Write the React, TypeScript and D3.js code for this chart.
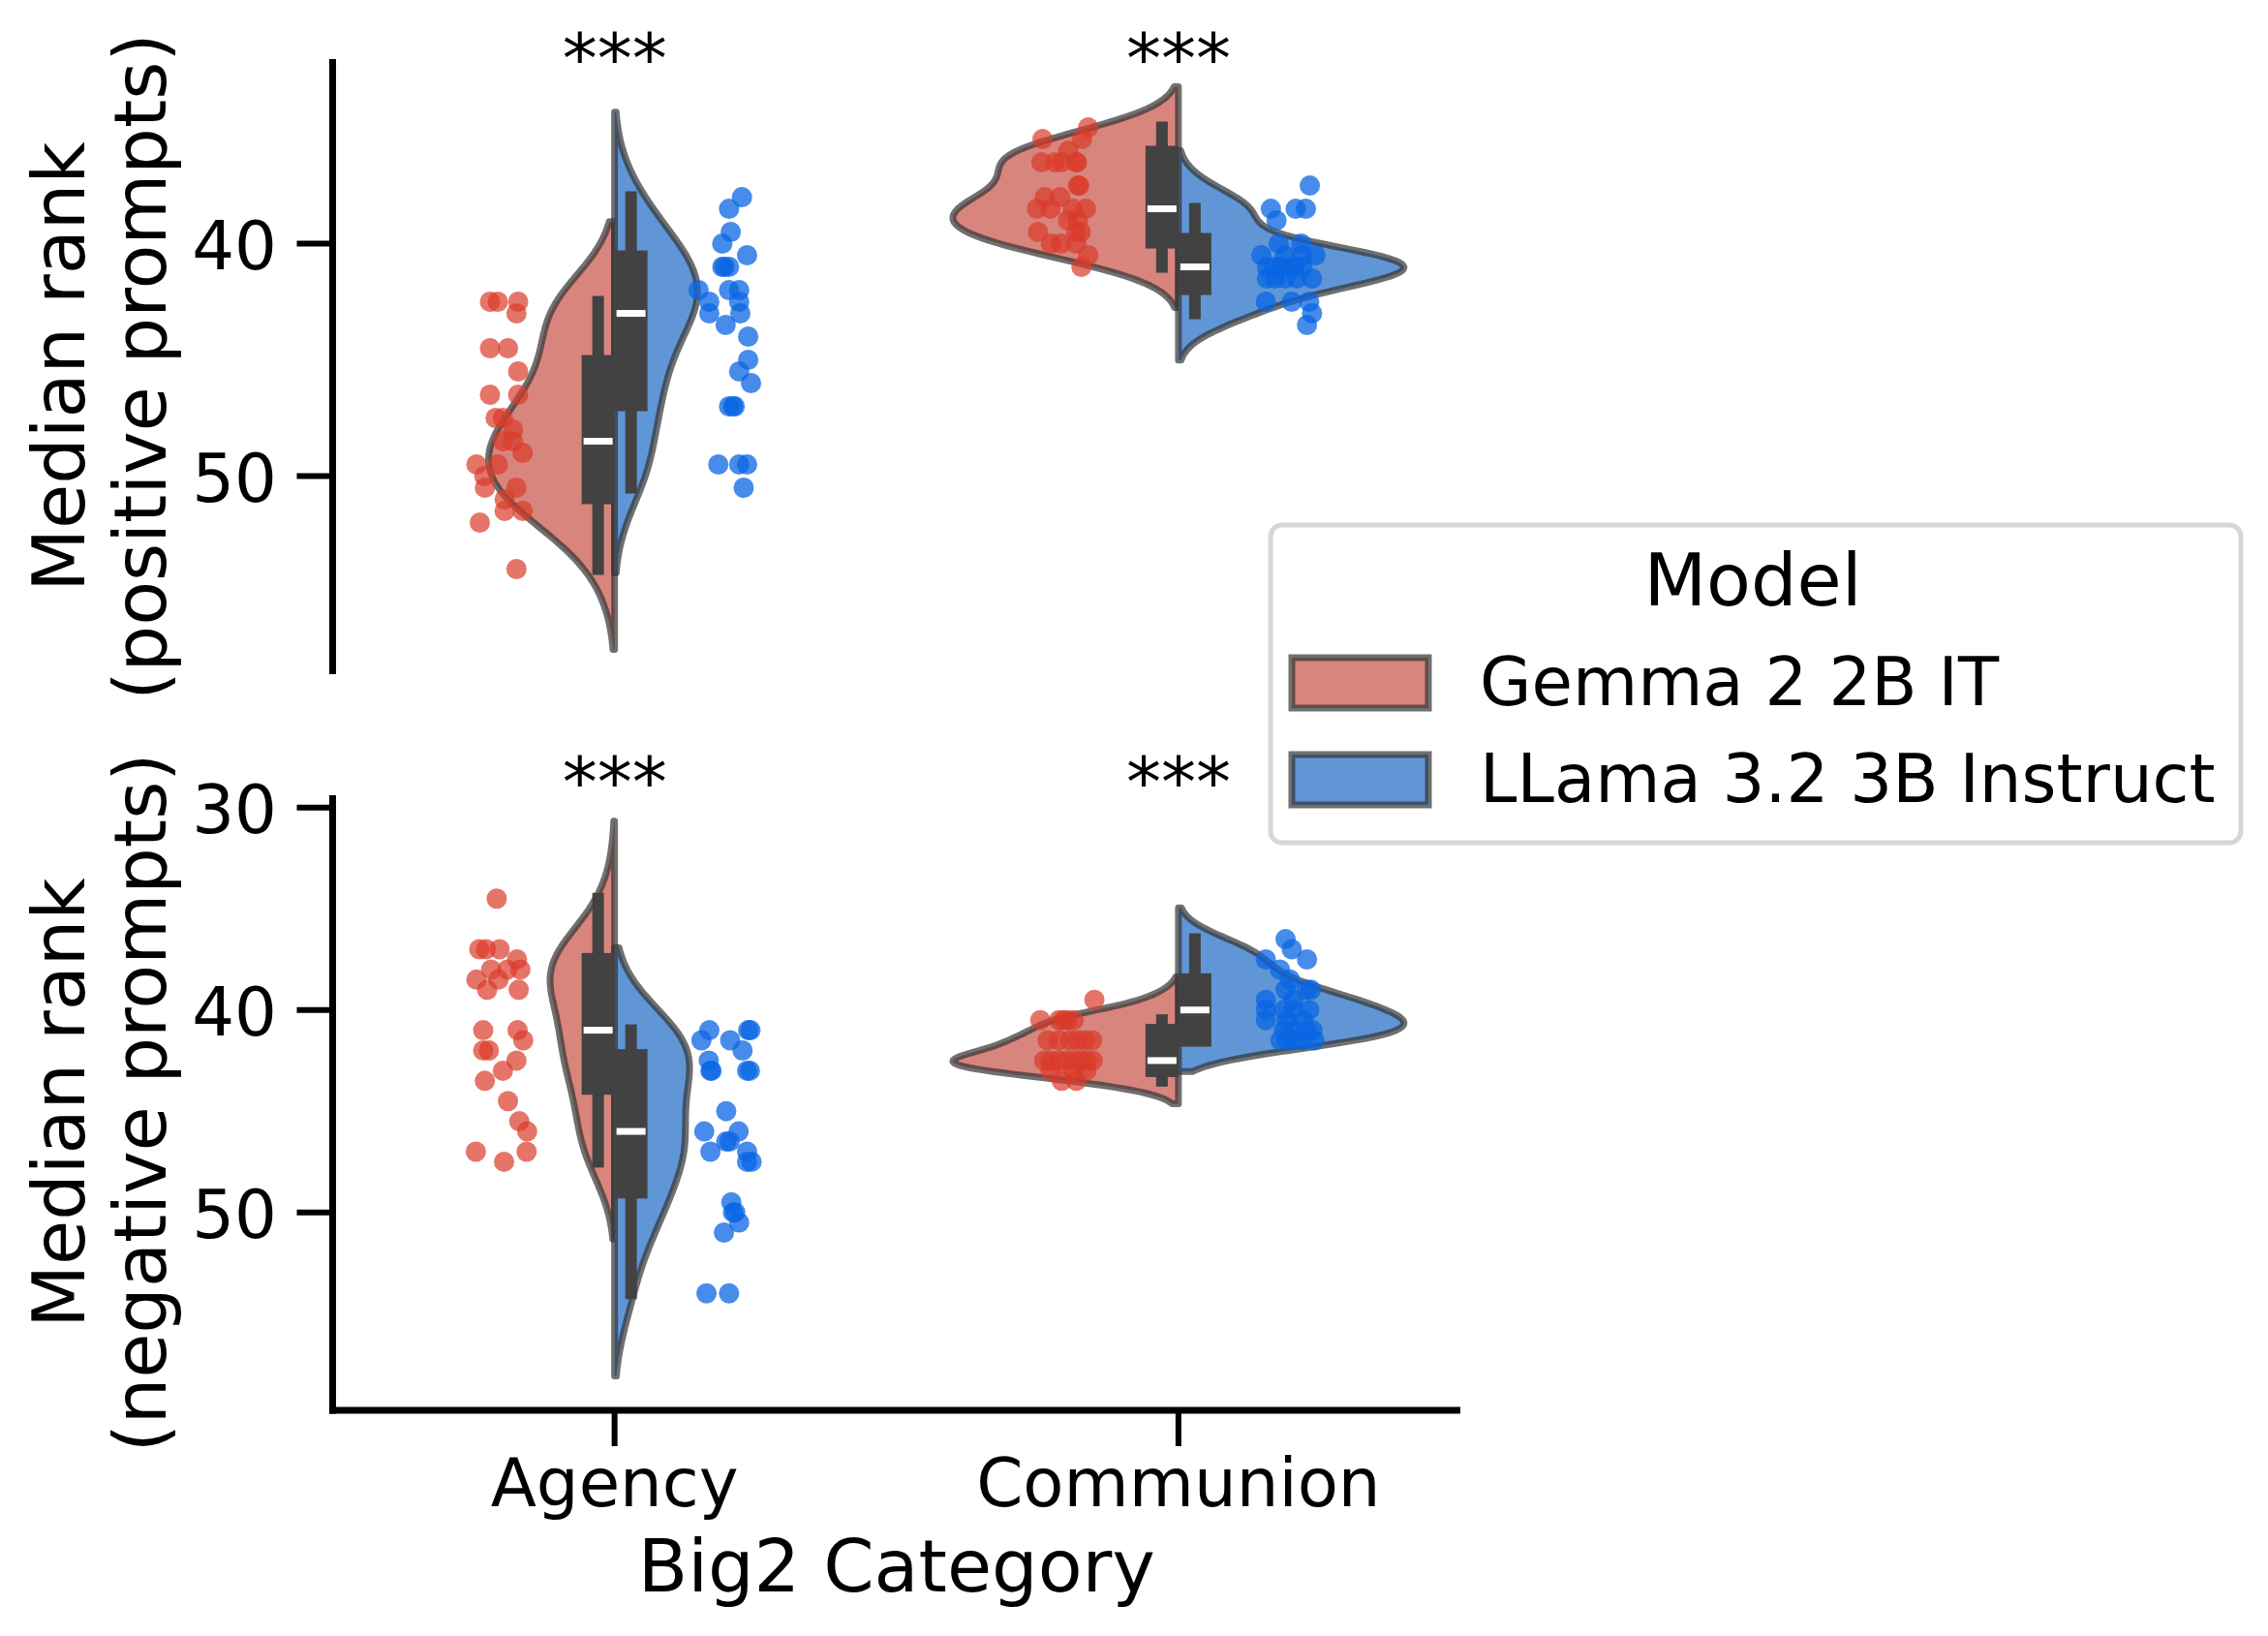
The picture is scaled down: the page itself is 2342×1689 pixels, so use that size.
import React from "react";
import * as d3 from "d3";

type Pt = [number, number]; // [median rank, horizontal jitter in category units]

const categories = ["Agency", "Communion"];
const models = ["Gemma 2 2B IT", "LLama 3.2 3B Instruct"];
const legendTitle = "Model";
const xAxisTitle = "Big2 Category";
const yTitlesPositive = ["Median rank", "(positive prompts)"];
const yTitlesNegative = ["Median rank", "(negative prompts)"];
const yTicksPositive = [40, 50];
const yTicksNegative = [30, 40, 50];
const sigPositive = ["***", "***"];
const sigNegative = ["***", "***"];

// ---- positive prompts ----
const posAgencyGemma: Pt[] = [
  [42.5, -0.021], [42.5, -0.007], [42.5, 0.029], [43, 0.026], [44.5, -0.021], [44.5, 0.011],
  [45.5, 0.029], [46.5, -0.021], [46.5, 0.029], [47.5, -0.011], [47.5, 0.002], [48, 0.02],
  [48.5, 0.002], [48.5, 0.02], [49, 0.037], [49.5, -0.045], [49.5, -0.007], [50, -0.031],
  [50.5, -0.03], [50.5, 0.026], [51, 0.005], [51.5, 0.005], [51.5, 0.037], [52, -0.039], [54, 0.026],
];
const posAgencyLlama: Pt[] = [
  [38, 0.026], [38.5, 0.003], [39.5, 0.006], [40, -0.009], [40.5, 0.035], [41, -0.009],
  [41, 0.003], [41, -0.005], [42, -0.051], [42, 0.003], [42, 0.021], [42.5, -0.032],
  [42.5, 0.021], [43, -0.032], [43, 0.023], [43.5, -0.003], [44, 0.037], [45, 0.037],
  [45.5, 0.021], [46, 0.042], [47, 0.003], [47, 0.013], [47, 0.01], [49.5, -0.016],
  [49.5, 0.021], [49.5, 0.035], [50.5, 0.029],
];
const posCommunionGemma: Pt[] = [
  [35, 0.04], [35.5, -0.041], [35.5, 0.029], [36, 0.005], [36.5, -0.043], [36.5, -0.019],
  [36.5, -0.007], [36.5, 0.019], [36.5, 0.02], [37.5, 0.024], [37.5, 0.022], [38, -0.037],
  [38, -0.01], [38.5, -0.051], [38.5, -0.027], [38.5, 0.013], [38.5, 0.036], [39, 0.004],
  [39, 0.022], [39.5, -0.049], [39.5, 0.019], [39.5, 0.027], [40, -0.026], [40, -0.008],
  [40, 0.019], [40.5, 0.04], [41, 0.028],
];
const posCommunionLlama: Pt[] = [
  [37.5, 0.033], [38.5, -0.036], [38.5, 0.008], [38.5, 0.026], [39, -0.026], [40, -0.022],
  [40, 0.018], [40.5, -0.053], [40.5, -0.011], [40.5, 0.043], [40.5, 0.02], [41, -0.043],
  [41, -0.017], [41, 0.003], [41, 0.006], [41, -0.03], [41, 0.02], [41.5, -0.043],
  [41.5, -0.029], [41.5, -0.011], [41.5, 0.037], [41.5, 0.01], [42.5, -0.045], [42.5, 0.001],
  [42.5, 0.032], [43, 0.037], [43.5, 0.028],
];

// ---- negative prompts ----
const negAgencyGemma: Pt[] = [
  [34.5, -0.009], [37, -0.04], [37, -0.028], [37, -0.004], [37.5, 0.027], [38, -0.019],
  [38, 0.01], [38, 0.033], [38.5, -0.045], [38.5, -0.006], [39, -0.026], [39, 0.03],
  [41, -0.033], [41, 0.028], [41.5, 0.038], [42, -0.033], [42, -0.023], [42.5, 0.026],
  [43, 0.002], [43.5, -0.03], [44.5, 0.011], [45.5, 0.031], [46, 0.045], [47, -0.046],
  [47, 0.044], [47.5, 0.004],
];
const negAgencyLlama: Pt[] = [
  [41, -0.032], [41, 0.037], [41, 0.041], [41.5, -0.046], [41.5, 0.005], [42, 0.027],
  [42.5, -0.033], [43, -0.03], [43, -0.028], [43, 0.035], [43, 0.04], [45, -0.002],
  [46, -0.041], [46, 0.02], [46.5, -0.002], [46.5, 0.004], [47, -0.03], [47, 0.035],
  [47.5, 0.035], [47.5, 0.043], [49.5, 0.007], [50, 0.01], [50, 0.014], [50.5, 0.021],
  [51, -0.006], [54, -0.037], [54, 0.003],
];
const negCommunionGemma: Pt[] = [
  [39.5, 0.051], [40.5, -0.045], [40.5, -0.012], [40.5, -0.004], [40.5, 0.003], [40.5, 0.014],
  [41.5, -0.032], [41.5, -0.012], [41.5, 0.008], [41.5, 0.022], [41.5, 0.034], [41.5, 0.047],
  [42.5, -0.038], [42.5, -0.027], [42.5, -0.012], [42.5, 0.002], [42.5, 0.014], [42.5, 0.026],
  [42.5, 0.037], [42.5, 0.048], [43, -0.027], [43, 0.014], [43, 0.037], [43.5, -0.007],
  [43.5, 0.019],
];
const negCommunionLlama: Pt[] = [
  [36.5, -0.01], [37, 0.001], [37.5, -0.045], [37.5, 0.028], [38, -0.02], [38.5, -0.002],
  [39, -0.01], [39, 0.027], [39, 0.035], [39.5, -0.045], [39.5, 0.004], [40, -0.045],
  [40, 0.004], [40, 0.032], [40, -0.013], [40.5, -0.045], [40.5, -0.008], [40.5, 0.021],
  [41, -0.013], [41, 0.038], [41, 0.004], [41, 0.027], [41.5, -0.008], [41.5, 0.004],
  [41.5, 0.041], [41.5, 0.021], [41.5, -0.019],
];

// ---------------- layout & style ----------------
const W = 2342;
const H = 1689;
const X_LEFT = 343.5;
const X_RIGHT = 1508;
const FONT = "DejaVu Sans";
const FILL = ["#D8857E", "#6096D5"];
const DOT = ["#DA3B2A", "#0A66E3"];
const DOT_OPACITY = [0.7, 0.75];
const EDGE = "#333333";
const EDGE_OPACITY = 0.7;
const EDGE_W = 7;
const BOX = "#424242";
const HALF_WIDTH = 0.4;
const DODGE = 0.2;
const BOX_W = 34;
const WHIS_W = 12;

const panels = [
  {
    top: 61, bottom: 696, domain: [32.06, 58.52], ticks: yTicksPositive, titles: yTitlesPositive,
    sig: sigPositive, sigY: 85, groups: [[posAgencyGemma, posAgencyLlama], [posCommunionGemma, posCommunionLlama]],
    xAxis: false,
  },
  {
    top: 821, bottom: 1456, domain: [29.39, 59.78], ticks: yTicksNegative, titles: yTitlesNegative,
    sig: sigNegative, sigY: 832, groups: [[negAgencyGemma, negAgencyLlama], [negCommunionGemma, negCommunionLlama]],
    xAxis: true,
  },
];

function kde(vals: number[]) {
  const n = vals.length;
  const sd = d3.deviation(vals) as number;
  const bw = sd * Math.pow(n, -0.2);
  const lo = (d3.min(vals) as number) - 2 * bw;
  const hi = (d3.max(vals) as number) + 2 * bw;
  const c = 1 / (n * bw * Math.sqrt(2 * Math.PI));
  return d3.range(100).map((i) => {
    const y = lo + ((hi - lo) * i) / 99;
    return [y, c * d3.sum(vals, (v) => Math.exp(-0.5 * ((y - v) / bw) ** 2))] as [number, number];
  });
}

function boxStats(vals: number[]) {
  const s = vals.slice().sort((a, b) => a - b);
  const q1 = d3.quantileSorted(s, 0.25) as number;
  const med = d3.quantileSorted(s, 0.5) as number;
  const q3 = d3.quantileSorted(s, 0.75) as number;
  const iqr = q3 - q1;
  const lo = d3.min(s.filter((v) => v >= q1 - 1.5 * iqr)) as number;
  const hi = d3.max(s.filter((v) => v <= q3 + 1.5 * iqr)) as number;
  return { q1, med, q3, lo, hi };
}

const xs = d3.scaleLinear().domain([-0.5, 1.5]).range([X_LEFT, X_RIGHT]);

function Panel({ p }: { p: (typeof panels)[number] }) {
  const ys = d3.scaleLinear().domain(p.domain).range([p.top, p.bottom]);
  const dens = p.groups.map((cat) => cat.map((pts) => kde(pts.map((d) => d[0]))));
  const maxD = [0, 1].map((h) => d3.max(dens, (cat) => d3.max(cat[h], (d) => d[1])) as number);
  const unit = xs(1) - xs(0);
  const line = d3.line<[number, number]>();

  const violins: React.ReactNode[] = [];
  const boxes: React.ReactNode[] = [];
  const dots: React.ReactNode[] = [];

  p.groups.forEach((cat, ci) => {
    const xc = xs(ci);
    cat.forEach((pts, h) => {
      const side = h === 0 ? -1 : 1;
      const dd = dens[ci][h];
      const pathPts: [number, number][] = [[xc, ys(dd[0][0])]];
      dd.forEach(([y, d]) => pathPts.push([xc + side * (d / maxD[h]) * HALF_WIDTH * unit, ys(y)]));
      pathPts.push([xc, ys(dd[dd.length - 1][0])]);
      violins.push(
        <path key={`v${ci}${h}`} d={(line(pathPts) as string) + "Z"} fill={FILL[h]}
          stroke={EDGE} strokeOpacity={EDGE_OPACITY} strokeWidth={EDGE_W} strokeLinejoin="round" />
      );
      const st = boxStats(pts.map((d) => d[0]));
      const bx = xc + side * (BOX_W / 2);
      boxes.push(
        <g key={`b${ci}${h}`}>
          <rect x={bx - WHIS_W / 2} width={WHIS_W} y={ys(st.lo) - WHIS_W / 2}
            height={ys(st.hi) - ys(st.lo) + WHIS_W} fill={BOX} />
          <rect x={bx - BOX_W / 2} width={BOX_W} y={ys(st.q1) - BOX_W / 2}
            height={ys(st.q3) - ys(st.q1) + BOX_W} fill={BOX} />
          <rect x={bx - 15} width={30} y={ys(st.med) - 3.5} height={7} fill="#ffffff" />
        </g>
      );
      pts.forEach(([v, j], i) => {
        dots.push(
          <circle key={`d${ci}${h}${i}`} cx={xs(ci + side * DODGE + j)} cy={ys(v)} r={10.5}
            fill={DOT[h]} fillOpacity={DOT_OPACITY[h]} />
        );
      });
    });
  });

  const midY = (p.top + p.bottom) / 2;
  return (
    <g>
      {violins}
      {boxes}
      {dots}
      <line x1={X_LEFT} x2={X_LEFT} y1={p.top} y2={p.bottom + (p.xAxis ? 3.5 : 0)} stroke="#000" strokeWidth={7} />
      {p.ticks.map((t) => (
        <g key={t}>
          <line x1={X_LEFT - 37} x2={X_LEFT} y1={ys(t)} y2={ys(t)} stroke="#000" strokeWidth={6} />
          <text x={286} y={ys(t) + 26} textAnchor="end" fontSize={69} fontFamily={FONT}>{t}</text>
        </g>
      ))}
      {p.sig.map((s, ci) => (
        <text key={ci} x={xs(ci)} y={p.sigY} textAnchor="middle" fontSize={72} fontFamily={FONT}>{s}</text>
      ))}
      <text transform={`translate(87,${midY}) rotate(-90)`} textAnchor="middle" fontSize={75} fontFamily={FONT}>{p.titles[0]}</text>
      <text transform={`translate(171,${midY}) rotate(-90)`} textAnchor="middle" fontSize={75} fontFamily={FONT}>{p.titles[1]}</text>
      {p.xAxis && (
        <g>
          <line x1={X_LEFT - 3.5} x2={X_RIGHT} y1={p.bottom} y2={p.bottom} stroke="#000" strokeWidth={7} />
          {categories.map((c, ci) => (
            <g key={c}>
              <line x1={xs(ci)} x2={xs(ci)} y1={p.bottom} y2={p.bottom + 37} stroke="#000" strokeWidth={6} />
              <text x={xs(ci)} y={1555} textAnchor="middle" fontSize={69} fontFamily={FONT}>{c}</text>
            </g>
          ))}
          <text x={(X_LEFT + X_RIGHT) / 2} y={1643} textAnchor="middle" fontSize={75} fontFamily={FONT}>{xAxisTitle}</text>
        </g>
      )}
    </g>
  );
}

function Legend() {
  return (
    <g>
      <rect x={1312} y={542} width={1002} height={328} rx={12} fill="#fff" stroke="#d6d6d6" strokeWidth={5} />
      <text x={1810} y={625} textAnchor="middle" fontSize={75} fontFamily={FONT}>{legendTitle}</text>
      {models.map((m, i) => (
        <g key={m}>
          <rect x={1334} y={679 + i * 100} width={141} height={52} fill={FILL[i]}
            stroke={EDGE} strokeOpacity={EDGE_OPACITY} strokeWidth={EDGE_W} />
          <text x={1528} y={728 + i * 100} fontSize={69} fontFamily={FONT}>{m}</text>
        </g>
      ))}
    </g>
  );
}

export default function App() {
  return (
    <svg width={W} height={H} viewBox={`0 0 ${W} ${H}`}
      style={{ position: "absolute", left: 0, top: 0, background: "#fff" }}>
      <rect width={W} height={H} fill="#fff" />
      {panels.map((p, i) => <Panel key={i} p={p} />)}
      <Legend />
    </svg>
  );
}
